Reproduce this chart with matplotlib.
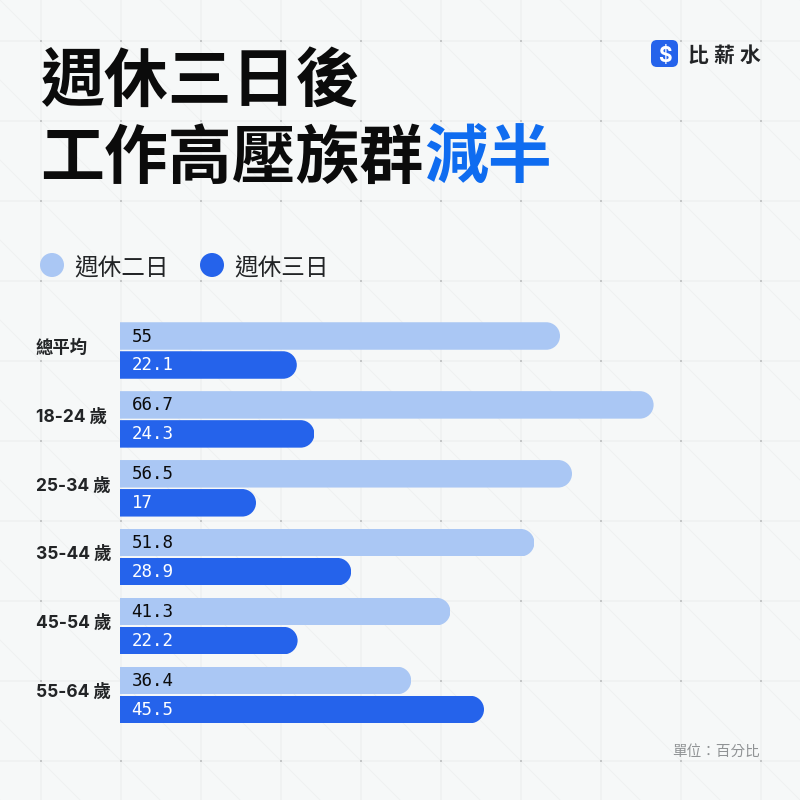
import matplotlib
matplotlib.use("Agg")
import matplotlib.pyplot as plt
import numpy as np
from matplotlib.patches import FancyBboxPatch, Circle
from matplotlib.path import Path

plt.rcParams['font.family'] = ['Noto Sans CJK TC', 'DejaVu Sans']

# data
categories = ['總平均', '18-24 歲', '25-34 歲', '35-44 歲', '45-54 歲', '55-64 歲']
two_day = [55, 66.7, 56.5, 51.8, 41.3, 36.4]
three_day = [22.1, 24.3, 17, 28.9, 22.2, 45.5]
two_day_labels = ['55', '66.7', '56.5', '51.8', '41.3', '36.4']
three_day_labels = ['22.1', '24.3', '17', '28.9', '22.2', '45.5']

BG = '#f6f8f8'
LIGHT = '#aac7f4'
DARK = '#2563eb'
INK = '#0b0b0b'
TEXT = '#222426'
GRID = '#eff1f1'

fig = plt.figure(figsize=(8, 8), dpi=100, facecolor=BG)

# background layer in pixel coordinates
bg = fig.add_axes([0, 0, 1, 1], zorder=0)
bg.set_xlim(0, 800)
bg.set_ylim(800, 0)
bg.axis('off')
grid_pos = np.arange(41, 800, 80)
for p in grid_pos:
    bg.plot([p, p], [0, 800], color=GRID, lw=1.1, solid_capstyle='butt', zorder=0)
    bg.plot([0, 800], [p, p], color=GRID, lw=1.1, solid_capstyle='butt', zorder=0)
for off in np.arange(-800, 801, 80):
    bg.plot([0, 800], [-off, 800 - off], color=GRID, lw=0.7, zorder=0)
xx, yy = np.meshgrid(grid_pos, grid_pos)
bg.scatter(xx.ravel(), yy.ravel(), s=2.5, color='#c4c6c7', marker='s', linewidths=0, zorder=0.5)

# title
bg.text(40, 82, '週休三日後', fontsize=46, fontweight='black', color=INK, va='center', ha='left')
bg.text(40, 159, '工作高壓族群', fontsize=46, fontweight='black', color=INK, va='center', ha='left')
bg.text(424, 159, '減半', fontsize=46, fontweight='black', color='#0f6cf0', va='center', ha='left')

# logo
bg.add_patch(FancyBboxPatch((651, 40), 27, 27, boxstyle='round,pad=0,rounding_size=6',
                            fc=DARK, ec='none', zorder=3))
bg.text(664.5, 53.5, '$', fontsize=15, fontweight='bold', color='white', ha='center', va='center_baseline',
        family='Inter', zorder=4)
for x, ch in zip([698, 724, 750], '比薪水'):
    bg.text(x, 55, ch, fontsize=15, fontweight='bold', color=TEXT, ha='center', va='center')

# legend
bg.add_patch(Circle((52, 265), 12, fc=LIGHT, ec='none', zorder=3))
bg.text(74, 268.5, '週休二日', fontsize=17, color=TEXT, va='center', ha='left')
bg.add_patch(Circle((212, 265), 12, fc=DARK, ec='none', zorder=3))
bg.text(234, 268.5, '週休三日', fontsize=17, color=TEXT, va='center', ha='left')

bg.text(760, 752, '單位：百分比', fontsize=10.5, color='#909395', va='center', ha='right')

# chart: x starts at pixel 120, 8 px per percent; y runs in groups, 68.9 px each
ax = fig.add_axes([120 / 800, 0, 680 / 800, 1], zorder=1)
ax.patch.set_alpha(0)
ax.set_xlim(0, 85)
group_px = 68.9
ax.set_ylim((800 - 350.5) / group_px, -350.5 / group_px)
ax.axis('off')

bar_h = 27.5 / group_px
gap = 29 / group_px / 2
rx = 13.75 / 8
K = 0.5523


def rounded_barh(y, value, color):
    # plain bar, clipped by a path with a rounded right end
    bar = ax.barh(y, value, height=bar_h, color=color, linewidth=0)[0]
    top, bot = y - bar_h / 2, y + bar_h / 2
    ry = bar_h / 2
    verts = [(-1, top), (value - rx, top),
             (value - rx + K * rx, top), (value, y - K * ry), (value, y),
             (value, y + K * ry), (value - rx + K * rx, bot), (value - rx, bot),
             (-1, bot), (-1, top)]
    codes = [Path.MOVETO, Path.LINETO,
             Path.CURVE4, Path.CURVE4, Path.CURVE4,
             Path.CURVE4, Path.CURVE4, Path.CURVE4,
             Path.LINETO, Path.CLOSEPOLY]
    bar.set_clip_path(Path(verts, codes), ax.transData)


for i, cat in enumerate(categories):
    rounded_barh(i - gap, two_day[i], LIGHT)
    rounded_barh(i + gap, three_day[i], DARK)
    ax.text(1.45, i - gap + 0.5 / group_px, two_day_labels[i], fontsize=12.6, family='DejaVu Sans Mono',
            color=INK, va='center', ha='left')
    ax.text(1.45, i + gap + 0.5 / group_px, three_day_labels[i], fontsize=12.6, family='DejaVu Sans Mono',
            color='white', va='center', ha='left')
    ax.text(-84 / 8, i - 2.5 / group_px, cat, fontsize=12.5, fontweight='bold',
            family=['Inter', 'Noto Sans CJK TC'], color=TEXT, va='center', ha='left')

fig.savefig('out.png', dpi=100, facecolor=BG)
